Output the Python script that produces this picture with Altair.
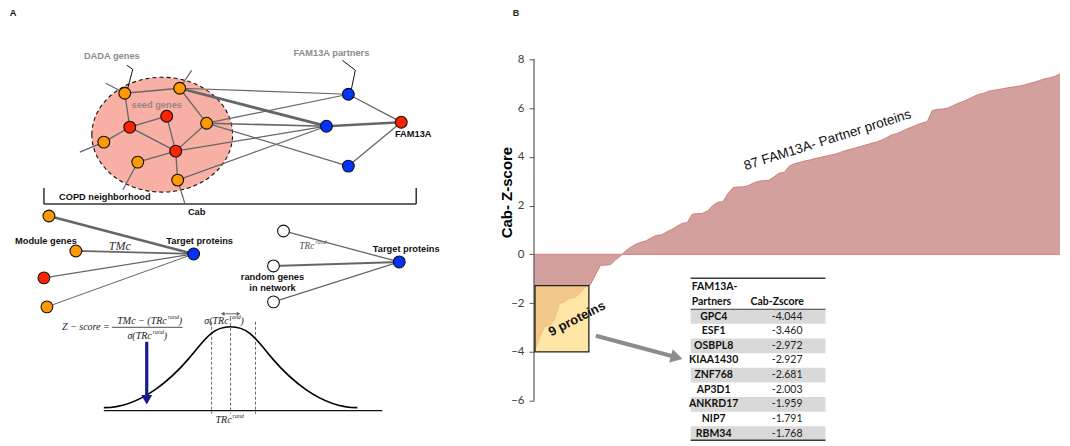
import altair as alt
import pandas as pd

# ======================= Panel B data =======================
partners = ["GPC4", "ESF1", "OSBPL8", "KIAA1430", "ZNF768", "AP3D1", "ANKRD17", "NIP7", "RBM34"]
partner_z = [-4.044, -3.460, -2.972, -2.927, -2.681, -2.003, -1.959, -1.791, -1.768]
other_neg = [-1.60, -1.35, -1.25, -0.85, -0.45, -0.44, -0.42, -0.22, -0.05]
pos_values = [0.15, 0.30, 0.42, 0.50, 0.56, 0.68, 0.78, 0.80, 0.92, 1.02,
              1.15, 1.27, 1.30, 1.65, 1.67, 1.68, 1.78, 2.00, 2.14, 2.16,
              2.50, 2.74, 2.76, 2.77, 2.82, 2.93, 3.00, 3.02, 3.04, 3.18,
              3.33, 3.36, 3.62, 3.72, 3.77, 3.83, 3.87, 3.93, 3.97, 4.02,
              4.07, 4.11, 4.18, 4.26, 4.31, 4.37, 4.43, 4.49, 4.55, 4.60,
              4.68, 4.78, 4.90, 4.95, 5.04, 5.14, 5.22, 5.31, 5.39, 5.44,
              5.90, 5.95, 5.96, 6.00, 6.09, 6.19, 6.27, 6.36, 6.46, 6.56,
              6.60, 6.69, 6.73, 6.76, 6.80, 6.84, 6.87, 6.90, 6.95, 7.01,
              7.06, 7.13, 7.20, 7.24, 7.30, 7.40]
y_ticks = [-6, -4, -2, 0, 2, 4, 6, 8]
zscores = partner_z + other_neg + pos_values

# ======================= Panel A data =======================
node_name = ["O1", "O2", "O3", "O4", "O5", "O6", "R1", "R2", "R3", "B1", "B2", "B3", "F",
             "M1", "M2", "M3", "M4", "T1", "W1", "W2", "W3", "T2"]
node_x = [125, 180, 207, 104, 138, 178, 167, 130, 176, 349, 327, 349, 402,
          49, 76, 44, 47, 194, 284, 274, 274, 400]
node_y = [93, 88, 123, 142, 162, 180, 116, 127, 151, 94, 126, 166, 122,
          216, 251, 278, 307, 254, 231, 266, 302, 262]
node_color = ["#FF9900"] * 6 + ["#FF2200"] * 3 + ["#0033FF"] * 3 + ["#FF2200",
              "#FF9900", "#FF9900", "#FF2200", "#FF9900", "#0033FF",
              "#FFFFFF", "#FFFFFF", "#FFFFFF", "#0033FF"]
edge_from = ["O1", "O1", "R2", "R2", "R2", "R1", "O2", "O3", "R3", "R3",
             "O2", "O2", "O3", "O3", "O3", "R3", "O6", "B1", "B2", "B3",
             "M1", "M2", "M3", "M4", "W1", "W2", "W3"]
edge_to = ["O2", "R2", "R1", "O4", "R3", "R3", "O3", "R3", "O5", "O6",
           "B1", "B2", "B1", "B2", "B3", "B2", "B2", "F", "F", "F",
           "T1", "T1", "T1", "T1", "T2", "T2", "T2"]
edge_width = [1.3] * 10 + [1.2, 2.8, 1.2, 1.6, 1.2, 1.2, 1.2, 1.3, 2.6, 1.3,
                          2.6, 1.8, 1.3, 1.0, 1.3, 2.0, 1.2]
# short stubs leaving the neighbourhood (from node, to point)
stub_from = ["O1", "O2", "O4", "O5", "O6"]
stub_x = [106, 192, 80, 123, 185]
stub_y = [83, 70, 152, 190, 203]

# ---------------- helpers -----------------
XA = alt.X("x:Q", scale=alt.Scale(domain=[8, 448], nice=False, zero=False), axis=None)
YA = alt.Y("y:Q", scale=alt.Scale(domain=[444, 8], nice=False, zero=False), axis=None)

pos = dict(zip(node_name, zip(node_x, node_y)))
edges = pd.DataFrame({
    "x": [pos[a][0] for a in edge_from], "y": [pos[a][1] for a in edge_from],
    "x2": [pos[b][0] for b in edge_to], "y2": [pos[b][1] for b in edge_to],
    "w": edge_width})
stubs = pd.DataFrame({
    "x": [pos[a][0] for a in stub_from], "y": [pos[a][1] for a in stub_from],
    "x2": stub_x, "y2": stub_y})
nodes = pd.DataFrame({"x": node_x, "y": node_y, "c": node_color})


def seg_layer(df, **kw):
    return alt.Chart(df).mark_rule(**kw).encode(x=XA, y=YA, x2="x2:Q", y2="y2:Q")


ELLIPSE = "M -1 0 A 1 0.816 0 1 1 1 0 A 1 0.816 0 1 1 -1 0 Z"
BELL = ("M -1 0.319 C -0.7 0.319 -0.45 0.072 -0.33 -0.068 C -0.21 -0.208 -0.15 -0.319 0 -0.319 "
        "C 0.15 -0.319 0.21 -0.208 0.33 -0.068 C 0.45 0.072 0.7 0.319 1 0.319")

ellipse = alt.Chart(pd.DataFrame({"x": [162.5], "y": [134.5]})).mark_point(
    shape=ELLIPSE, size=141 * 141, filled=True, fill="#F8B0A4", stroke="#111111",
    strokeWidth=1.1, strokeDash=[4, 3], opacity=1, fillOpacity=1).encode(x=XA, y=YA)

bell = alt.Chart(pd.DataFrame({"x": [231], "y": [367.5]})).mark_point(
    shape=BELL, size=254 * 254, filled=False, color="#000000", strokeWidth=1.6,
    opacity=1).encode(x=XA, y=YA)

edge_layer = alt.Chart(edges).mark_rule(color="#666666").encode(
    x=XA, y=YA, x2="x2:Q", y2="y2:Q",
    strokeWidth=alt.StrokeWidth("w:Q", scale=None, legend=None))
stub_layer = seg_layer(stubs, color="#666666", strokeWidth=1.2)

pointers = pd.DataFrame({
    "x": [127, 133, 343, 356], "y": [65, 69, 60, 70],
    "x2": [133, 128, 356, 352], "y2": [69, 88, 70, 89]})
pointer_layer = seg_layer(pointers, color="#111111", strokeWidth=1)

bracket = pd.DataFrame({
    "x": [44, 44, 417], "y": [204, 188, 188], "x2": [417, 44, 417], "y2": [204, 204, 204]})
bracket_layer = seg_layer(bracket, color="#333333", strokeWidth=1.5)

base_line = seg_layer(pd.DataFrame({"x": [104], "y": [411], "x2": [383], "y2": [411]}),
                      color="#111111", strokeWidth=1.2)
dashes = seg_layer(pd.DataFrame({"x": [212, 231, 256], "y": [322, 318, 322],
                                 "x2": [212, 231, 256], "y2": [414, 414, 414]}),
                   color="#555555", strokeWidth=0.9, strokeDash=[3, 2])
frac_bar = seg_layer(pd.DataFrame({"x": [112], "y": [327.5], "x2": [183], "y2": [327.5]}),
                     color="#222222", strokeWidth=0.8)
blue_shaft = seg_layer(pd.DataFrame({"x": [147], "y": [342], "x2": [147], "y2": [396]}),
                       color="#1A1A8F", strokeWidth=3.2)
blue_head = alt.Chart(pd.DataFrame({"x": [147], "y": [400]})).mark_point(
    shape="triangle-down", size=120, filled=True, color="#1A1A8F", opacity=1).encode(x=XA, y=YA)
sig_shaft = seg_layer(pd.DataFrame({"x": [224], "y": [314], "x2": [238], "y2": [314]}),
                      color="#666666", strokeWidth=1)
sig_heads = alt.Chart(pd.DataFrame({"x": [223, 239], "y": [314, 314],
                                    "s": ["triangle-left", "triangle-right"]})).mark_point(
    filled=True, size=18, color="#666666", opacity=1).encode(
    x=XA, y=YA, shape=alt.Shape("s:N", scale=None, legend=None))

node_layer = alt.Chart(nodes).mark_point(
    shape="circle", filled=True, size=140, stroke="#111111", strokeWidth=1.1,
    opacity=1).encode(x=XA, y=YA, fill=alt.Fill("c:N", scale=None, legend=None))

# text items: (text, x, y, style, align)
A_texts = [
    ("A", 13, 13, "lbl", "center"),
    ("DADA genes", 112, 56, "gray", "center"),
    ("FAM13A partners", 332, 53, "gray", "center"),
    ("seed genes", 157, 105, "seed", "center"),
    ("FAM13A", 414, 134, "lbl", "center"),
    ("COPD neighborhood", 105, 197, "lbl", "center"),
    ("Cab", 197, 212, "lbl", "center"),
    ("Module genes", 46, 241, "lbl", "center"),
    ("Target proteins", 200, 241, "lbl", "center"),
    ("Target proteins", 407, 249, "lbl", "center"),
    ("random genes", 273, 277, "lbl", "center"),
    ("in network", 273, 288, "lbl", "center"),
    ("TMc", 120, 246, "serbig", "center"),
    ("TRc", 315, 246, "sergray", "right"),
    ("rand", 316, 242, "supgray", "left"),
    ("Z \u2212 score =", 86, 327, "ser", "center"),
    ("TMc \u2212 (TRc", 167, 321, "ser", "right"),
    ("rand", 168, 317, "sup", "left"),
    (")", 179, 321, "ser", "left"),
    ("\u03c3(TRc", 152, 336, "ser", "right"),
    ("rand", 153, 332, "sup", "left"),
    (")", 164, 336, "ser", "left"),
    ("\u03c3(TRc", 229, 321, "ser", "right"),
    ("rand", 230, 317, "sup", "left"),
    (")", 241, 321, "ser", "left"),
    ("TRc", 232, 420, "ser", "right"),
    ("rand", 233, 416, "sup", "left"),
]
A_styles = {
    "lbl": dict(font="Liberation Sans", fontWeight="bold", fontSize=9.3, color="#111111"),
    "gray": dict(font="Liberation Sans", fontWeight="bold", fontSize=9.3, color="#8C8C8C"),
    "seed": dict(font="Liberation Sans", fontWeight="bold", fontSize=9.3, color="#9B8582"),
    "ser": dict(font="Liberation Serif", fontStyle="italic", fontSize=10, color="#222222"),
    "serbig": dict(font="Liberation Serif", fontStyle="italic", fontSize=12, color="#333333"),
    "sergray": dict(font="Liberation Serif", fontStyle="italic", fontSize=9.5, color="#555555"),
    "sup": dict(font="Liberation Serif", fontStyle="italic", fontSize=6, color="#333333"),
    "supgray": dict(font="Liberation Serif", fontStyle="italic", fontSize=6, color="#666666"),
}
tdf = pd.DataFrame(A_texts, columns=["t", "x", "y", "st", "al"])
A_text_layers = []
for (st, al), g in tdf.groupby(["st", "al"]):
    A_text_layers.append(alt.Chart(g).mark_text(align=al, baseline="middle", **A_styles[st]).encode(
        x=XA, y=YA, text="t:N"))

panelA = alt.layer(ellipse, edge_layer, stub_layer, pointer_layer, bracket_layer, node_layer,
                   base_line, dashes, bell, frac_bar, blue_shaft, blue_head, sig_shaft, sig_heads,
                   *A_text_layers).properties(width=440, height=436)

# ======================= Panel B =======================
B_PX0, B_PX1, N = 535, 1062, len(zscores)
PY8, PYM6 = 59, 401
K = 14 / (PYM6 - PY8)
VMAX = 8 + (PY8 - 8) * K
VMIN = -6 - (444 - PYM6) * K


def px2i(px):
    return (px - B_PX0) * (N - 1) / (B_PX1 - B_PX0)


def py2v(py):
    return 8 - (py - PY8) * K


XB = alt.X("i:Q", scale=alt.Scale(domain=[0, N - 1], nice=False, zero=False), axis=None)
YB = alt.Y("v:Q", scale=alt.Scale(domain=[VMIN, VMAX], nice=False, zero=False),
           axis=alt.Axis(values=y_ticks, title="Cab- Z-score", domain=False, grid=False,
                         tickSize=5, tickColor="#595959", tickWidth=1,
                         labelColor="#404040", labelFont="Lato", labelFontSize=11.5,
                         labelPadding=5, titleFont="Liberation Sans", titleFontSize=15,
                         titleFontWeight="bold", titleColor="#000000", titleAngle=270,
                         titleX=-28, titleY=184, titleAlign="center", titleBaseline="middle"))

curve = pd.DataFrame({"i": list(range(N)), "v": zscores, "zero": [0] * N})
area = alt.Chart(curve).mark_area(
    color="#D4A09D", opacity=1, interpolate="linear",
    line={"color": "#CC7E7A", "strokeWidth": 1}).encode(x=XB, y=YB, y2="zero:Q")

zero_line = alt.Chart(pd.DataFrame({"i": [0], "i2": [N - 1], "v": [0]})).mark_rule(
    color="#D98A88", strokeWidth=1.5).encode(x=XB, x2="i2:Q", y=YB)
axis_line = alt.Chart(pd.DataFrame({"i": [0], "v": [-6], "v2": [8]})).mark_rule(
    color="#595959", strokeWidth=1.2).encode(x=XB, y=YB, y2="v2:Q")

box = alt.Chart(pd.DataFrame({"i": [px2i(536)], "i2": [px2i(590)], "v": [-4.0], "v2": [py2v(285.7)]})
                ).mark_rect(fill="#FFDA80", fillOpacity=0.7, stroke="#222222",
                            strokeWidth=1.3).encode(x=XB, x2="i2:Q", y=YB, y2="v2:Q")

arrow_shaft = alt.Chart(pd.DataFrame({"i": [px2i(597)], "v": [py2v(336)],
                                      "i2": [px2i(673)], "v2": [py2v(356.3)]})).mark_rule(
    color="#8C8C8C", strokeWidth=4).encode(x=XB, y=YB, x2="i2:Q", y2="v2:Q")
arrow_head = alt.Chart(pd.DataFrame({"i": [px2i(678)], "v": [py2v(357.6)]})).mark_point(
    shape="triangle-right", angle=15, size=190, filled=True, color="#8C8C8C",
    opacity=1).encode(x=XB, y=YB)

label_87 = alt.Chart(pd.DataFrame({"i": [px2i(829)], "v": [py2v(140)],
                                   "t": ["87 FAM13A- Partner proteins"]})).mark_text(
    font="Liberation Sans", fontSize=13.5, angle=342.5, color="#111111",
    align="center", baseline="middle").encode(x=XB, y=YB, text="t:N")
label_9 = alt.Chart(pd.DataFrame({"i": [px2i(578)], "v": [py2v(319)],
                                  "t": ["9 proteins"]})).mark_text(
    font="Liberation Sans", fontSize=13, fontWeight="bold", angle=333, color="#111111",
    align="center", baseline="middle").encode(x=XB, y=YB, text="t:N")
label_B = alt.Chart(pd.DataFrame({"i": [px2i(517)], "v": [py2v(13)], "t": ["B"]})).mark_text(
    font="Liberation Sans", fontSize=9, fontWeight="bold", color="#222222",
    align="center", baseline="middle").encode(x=XB, y=YB, text="t:N")

# table
ROW0, ROWH = 316.7, 14.67
TX0, TX1 = 692, 827
band_rows = [r for r in range(len(partners)) if r % 2 == 0]
bands = pd.DataFrame({
    "i": [px2i(TX0)] * len(band_rows), "i2": [px2i(TX1)] * len(band_rows),
    "v": [py2v(ROW0 + ROWH * r - ROWH / 2) for r in band_rows],
    "v2": [py2v(ROW0 + ROWH * r + ROWH / 2) for r in band_rows]})
band_layer = alt.Chart(bands).mark_rect(color="#D9D9D9", opacity=1).encode(
    x=XB, x2="i2:Q", y=YB, y2="v2:Q")
tlines = pd.DataFrame({"i": [px2i(TX0)] * 3, "i2": [px2i(TX1)] * 3,
                       "v": [py2v(278.3), py2v(309.4), py2v(440.7)], "w": [1.5, 1.1, 1.5]})
tline_layer = alt.Chart(tlines).mark_rule(color="#3A3A3A").encode(
    x=XB, x2="i2:Q", y=YB, strokeWidth=alt.StrokeWidth("w:Q", scale=None, legend=None))
col1 = pd.DataFrame({"i": [px2i(715)] * len(partners),
                     "v": [py2v(ROW0 + ROWH * r) for r in range(len(partners))], "t": partners})
col2 = pd.DataFrame({"i": [px2i(804)] * len(partners),
                     "v": [py2v(ROW0 + ROWH * r) for r in range(len(partners))],
                     "t": [f"{z:.3f}" for z in partner_z]})
col1_layer = alt.Chart(col1).mark_text(font="Lato", fontWeight="bold", fontSize=10.5,
                                       color="#111111", align="center", baseline="middle").encode(
    x=XB, y=YB, text="t:N")
col2_layer = alt.Chart(col2).mark_text(font="Lato", fontSize=10.5, color="#222222",
                                       align="right", baseline="middle").encode(
    x=XB, y=YB, text="t:N")
head = pd.DataFrame({"i": [px2i(693), px2i(693), px2i(752)],
                     "v": [py2v(287.5), py2v(302), py2v(302)],
                     "t": ["FAM13A-", "Partners", "Cab-Zscore"]})
head_layer = alt.Chart(head).mark_text(font="Lato", fontWeight="bold", fontSize=10.5,
                                       color="#111111", align="left", baseline="middle").encode(
    x=XB, y=YB, text="t:N")

panelB = alt.layer(area, zero_line, axis_line, box, arrow_shaft, arrow_head, label_87, label_9,
                   label_B, band_layer, tline_layer, col1_layer, col2_layer, head_layer
                   ).properties(width=B_PX1 - B_PX0, height=436)

chart = alt.hconcat(panelA, panelB, spacing=B_PX0 - 448, bounds="flush").properties(
    padding=0).configure_view(strokeWidth=0)

chart.save("out.html", embed_options={"renderer": "svg", "actions": False})
